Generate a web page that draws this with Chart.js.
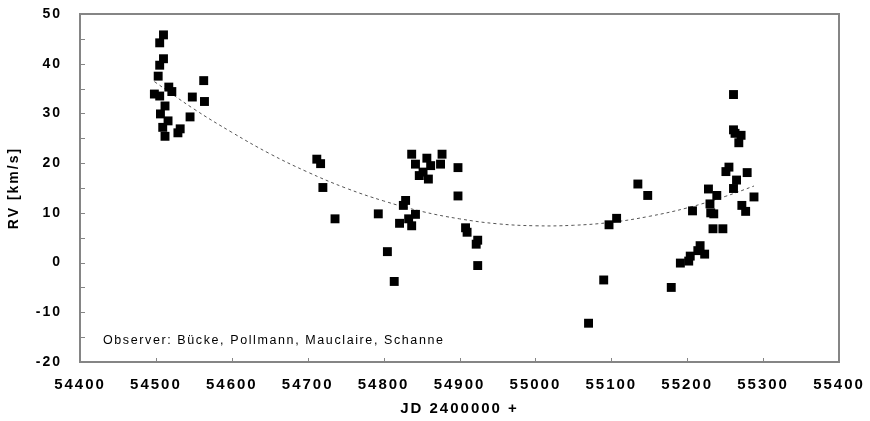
<!DOCTYPE html>
<html>
<head>
<meta charset="utf-8">
<script src="https://cdn.jsdelivr.net/npm/chart.js@4.4.1/dist/chart.umd.min.js"></script>
<style>
  html, body { margin: 0; padding: 0; background: #fff; }
  #wrap { width: 870px; height: 421px; }
</style>
</head>
<body>
<div id="wrap"><canvas id="rv"></canvas></div>
<script>
const jd = [
  54498, 54503, 54505, 54505, 54505, 54506, 54509, 54510, 54510, 54512,
  54512, 54516, 54517, 54521, 54529, 54532, 54545, 54548, 54563, 54564,
  54712, 54717, 54720, 54736, 54793, 54805, 54814, 54821, 54826, 54829,
  54833, 54837, 54837, 54842, 54842, 54847, 54852, 54857, 54859, 54862,
  54875, 54877, 54898, 54898, 54908, 54910, 54922, 54924, 54924,
  55070, 55090, 55097, 55107, 55135, 55148, 55179, 55191, 55202, 55204,
  55207, 55214, 55217, 55223, 55228, 55230, 55231, 55234, 55235, 55239,
  55247, 55251, 55255, 55261, 55261, 55261, 55263, 55265, 55268, 55271,
  55272, 55277, 55279, 55288
];
const rv = [
  33.9, 37.5, 44.2, 39.7, 33.5, 29.9, 27.2, 45.8, 41.0, 31.5,
  25.4, 28.5, 35.3, 34.4, 26.1, 26.9, 29.3, 33.3, 36.6, 32.4,
  20.8, 19.9, 15.1, 8.8, 9.8, 2.2, -3.8, 7.9, 11.5, 12.5,
  8.8, 21.8, 7.4, 19.8, 9.7, 17.5, 18.2, 21.0, 16.8, 19.5,
  19.8, 21.8, 19.1, 13.4, 7.0, 6.1, 3.7, 4.5, -0.6,
  -12.2, -3.5, 7.6, 8.9, 15.8, 13.5, -5.0, -0.1, 0.3, 1.3,
  10.4, 2.4, 3.4, 1.7, 14.8, 11.8, 10.0, 6.8, 9.8, 13.5,
  6.8, 18.3, 19.2, 33.8, 26.7, 14.9, 26.0, 16.6, 24.1, 25.6,
  11.5, 10.3, 18.1, 13.2
];

// dashed trend curve
const trendJd = [54498, 54550, 54600, 54650, 54700, 54750, 54800, 54850, 54900,
                 54950, 55000, 55050, 55100, 55150, 55200, 55250, 55288];
const trendRv = [36.4, 30.9, 26.2, 21.9, 18.2, 15.0, 12.4, 10.3, 8.8,
                 7.8, 7.4, 7.5, 8.1, 9.3, 11.0, 13.3, 15.4];

const note = "Observer: Bücke, Pollmann, Mauclaire, Schanne";

const FONT = '"Liberation Sans", Arial, sans-serif';
const SPACING = '2px';

// frame, inward tick marks and the observer note
const decor = {
  id: 'decor',
  beforeUpdate(chart) { chart.ctx.letterSpacing = SPACING; },
  beforeDraw(chart) { chart.ctx.letterSpacing = SPACING; },
  beforeDatasetsDraw(chart) {
    const { ctx, chartArea: a, scales: { x, y } } = chart;
    ctx.save();
    ctx.strokeStyle = '#858585';
    ctx.lineWidth = 1;
    ctx.beginPath();
    for (let v = y.min; v <= y.max; v += 5) {
      const py = Math.round(y.getPixelForValue(v)) + 0.5;
      ctx.moveTo(a.left, py);
      ctx.lineTo(a.left + 5, py);
    }
    for (let v = x.min; v <= x.max; v += 100) {
      const px = Math.round(x.getPixelForValue(v)) + 0.5;
      ctx.moveTo(px, a.bottom);
      ctx.lineTo(px, a.bottom - 4);
    }
    ctx.stroke();

    ctx.lineWidth = 2;
    ctx.strokeRect(a.left, a.top, a.right - a.left, a.bottom - a.top);

    ctx.letterSpacing = '1.6px';
    ctx.fillStyle = '#000';
    ctx.font = '12.5px ' + FONT;
    ctx.textBaseline = 'middle';
    ctx.textAlign = 'left';
    ctx.fillText(note, a.left + 23, a.bottom - 21);
    ctx.restore();
  }
};

new Chart(document.getElementById('rv'), {
  type: 'scatter',
  data: {
    datasets: [
      {
        label: 'RV',
        data: jd.map((d, i) => ({ x: d, y: rv[i] })),
        pointStyle: 'rect',
        pointRadius: 6.3,
        backgroundColor: '#000',
        borderColor: '#000',
        borderWidth: 0
      },
      {
        label: 'fit',
        data: trendJd.map((d, i) => ({ x: d, y: trendRv[i] })),
        showLine: true,
        pointRadius: 0,
        borderColor: '#555',
        borderWidth: 1,
        borderDash: [3, 3],
        tension: 0.4
      }
    ]
  },
  options: {
    responsive: true,
    maintainAspectRatio: false,
    animation: false,
    layout: { padding: { top: 14, right: 31, left: 0, bottom: 0 } },
    plugins: {
      legend: { display: false },
      tooltip: { enabled: false }
    },
    scales: {
      x: {
        type: 'linear',
        min: 54400,
        max: 55400,
        grid: { display: false, drawTicks: false },
        border: { display: false },
        ticks: {
          stepSize: 100,
          padding: 14,
          color: '#000',
          font: { family: FONT, size: 15, weight: 'bold' },
          callback: v => v
        },
        title: {
          display: true,
          text: 'JD 2400000 +',
          color: '#000',
          font: { family: FONT, size: 15, weight: 'bold' },
          padding: { top: 0, bottom: 3 }
        },
        afterFit(s) {
          s.height = 59;
          s.paddingLeft = 0;
          s.paddingRight = 0;
        }
      },
      y: {
        min: -20,
        max: 50,
        grid: { display: false, drawTicks: false },
        border: { display: false },
        ticks: {
          stepSize: 10,
          padding: 18,
          color: '#000',
          font: { family: FONT, size: 14, weight: 'bold' }
        },
        title: {
          display: true,
          text: 'RV [km/s]',
          color: '#000',
          font: { family: FONT, size: 14, weight: 'bold' },
          padding: { top: 6, bottom: 0 }
        },
        afterFit(s) {
          s.width = 80;
          s.paddingTop = 0;
          s.paddingBottom = 0;
        }
      }
    }
  },
  plugins: [decor]
});
</script>
</body>
</html>
